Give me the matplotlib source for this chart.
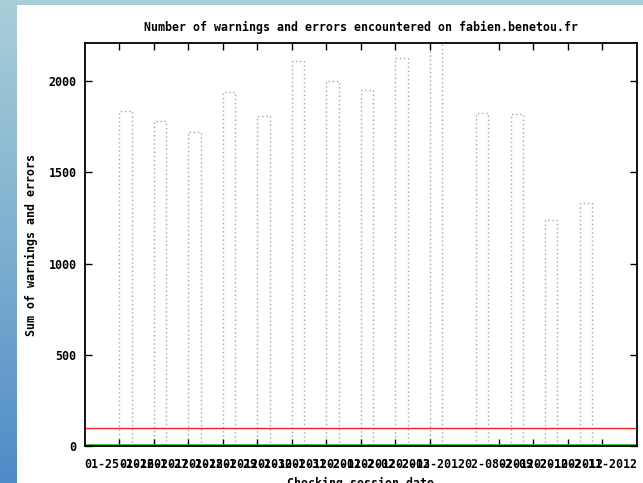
import matplotlib
matplotlib.use("Agg")
import matplotlib.pyplot as plt
import numpy as np

# session dates shown on the x axis (tick labels)
session_labels = ["01-25-2012", "01-26-2012", "01-27-2012", "01-28-2012",
                  "01-29-2012", "01-30-2012", "01-31-2012", "02-01-2012",
                  "02-02-2012", "02-03-2012", "02-08-2012", "02-09-2012",
                  "02-10-2012", "02-11-2012"]
# position of each label on the session axis
label_day = [1, 2, 3, 4, 5, 6, 7, 8, 9, 10, 12, 13, 14, 15]
# position of each box (the last four sit a bit before their label)
bar_day = [1, 2, 3, 4, 5, 6, 7, 8, 9, 10, 11.33, 12.35, 13.33, 14.35]
# sum of warnings and errors per session
warnings_errors = [1838, 1780, 1723, 1939, 1810, 2114, 2002, 1955, 2130,
                   2300, 1825, 1820, 1239, 1332]
threshold = 100
errors_level = 6

font = dict(family="DejaVu Sans Mono", weight="bold", size=8.4)

fig = plt.figure(figsize=(6.43, 4.83), dpi=100)

# blue-ish backdrop with the white page on it
bg = fig.add_axes([0, 0, 1, 1])
grad = np.linspace(0, 1, 256).reshape(-1, 1)
cmap = matplotlib.colors.LinearSegmentedColormap.from_list(
    "bg", ["#a9cfd8", "#7fb0d0", "#4f8bc9"])
bg.imshow(grad, aspect="auto", cmap=cmap, extent=[0, 1, 0, 1])
bg.add_patch(plt.Rectangle((17 / 643, 0), 1, 1 - 5 / 483,
                           facecolor="white", edgecolor="none"))
bg.set_xlim(0, 1)
bg.set_ylim(0, 1)
bg.axis("off")

ax = fig.add_axes([85 / 643, 1 - 446 / 483, 552 / 643, 403 / 483])
ax.set_facecolor("none")

ax.bar(bar_day, warnings_errors, width=0.35, align="edge", fill=False,
       edgecolor="#a5a5a5", linestyle=(0, (1, 2)), linewidth=1.0)
ax.axhline(threshold, color="#ff2020", linewidth=1.0)
ax.axhline(errors_level, color="#20c020", linewidth=1.2)

ax.set_xlim(0, 16)
ax.set_ylim(0, 2210)
ax.set_xticks(label_day)
ax.set_xticklabels(session_labels, fontdict=font)
ax.set_yticks([0, 500, 1000, 1500, 2000])
ax.set_yticklabels(["0", "500", "1000", "1500", "2000"], fontdict=font)
ax.tick_params(direction="in", length=5, width=1, top=True, right=True,
               colors="black")
ax.tick_params(axis="y", pad=6)
ax.tick_params(axis="x", pad=9)
for s in ax.spines.values():
    s.set_linewidth(1.3)

ax.set_title("Number of warnings and errors encountered on fabien.benetou.fr",
             fontdict=font, pad=9)
ax.set_ylabel("Sum of warnings and errors", fontdict=font, labelpad=8)
ax.set_xlabel("Checking session date", fontdict=font, labelpad=4)

fig.savefig("out.png", dpi=100)
